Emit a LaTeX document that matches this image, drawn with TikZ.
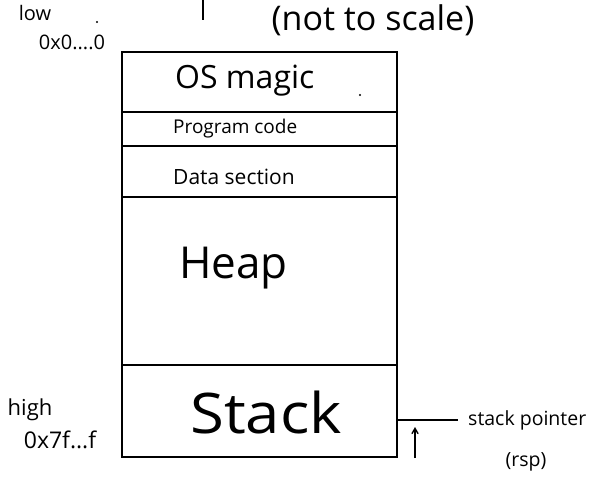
\documentclass[tikz,border=0pt]{standalone}
\usepackage{fontspec}
\setmainfont{Open Sans}
\usetikzlibrary{positioning}
\usetikzlibrary{arrows}
\tikzset{
  section/.style={
    % The shape:
    shape=rectangle,
    % The size:
    minimum width=275pt,inner sep=0pt,outer sep=0pt,
    % The border:
    line width=1.6pt,draw=black
  }}
\tikzset{
	bigtext/.style={
		% big labels inside the box
		anchor=west,inner sep=0pt,font=\fontsize{36}{40}\selectfont},
	smalltext/.style={
		anchor=west,inner sep=0pt,font=\fontsize{20}{24}\selectfont},
	note/.style={
		inner sep=0pt,font=\fontsize{19.5}{23}\selectfont}}

\begin{document}
\begin{tikzpicture}[x=1pt,y=-1pt]
	\useasboundingbox (0,0) rectangle (601,487);
	% The memory layout, top to bottom
	\node[section,minimum height=60pt,anchor=north west] (os) at (122,52) {};
	\node[section,minimum height=34pt,below=0pt of os] (prog) {};
	\node[section,minimum height=51pt,below=0pt of prog] (data) {};
	\node[section,minimum height=168pt,below=0pt of data] (heap) {};
	\node[section,minimum height=92pt,below=0pt of heap] (stack) {};
	% Labels of the sections
	\node[bigtext,font=\fontsize{32}{36}\selectfont] (ostext) at (175,81) {OS magic};
	\node[smalltext,font=\fontsize{19}{22}\selectfont] (progtext) at (173,129) {Program code};
	\node[smalltext,font=\fontsize{21}{24}\selectfont] (datatext) at (173,177) {Data section};
	\node[bigtext,font=\fontsize{44}{48}\selectfont] (heaptext) at (179,268) {Heap};
	\node[bigtext,font=\fontsize{56}{60}\selectfont,xscale=1.1] (stacktext) at (190,412) {Stack};
	% Addresses on the left
	\node[note,font=\fontsize{20}{22}\selectfont] (low) at (35,13) {low};
	\node[note,font=\fontsize{20}{22}\selectfont] (lowaddr) at (72,42) {0x0....0};
	\node[note,font=\fontsize{22}{24}\selectfont] (high) at (30,410) {high};
	\node[note,font=\fontsize{23}{26}\selectfont] (highaddr) at (60,440) {0x7f...f};
	% Heading
	\node[note,font=\fontsize{34}{38}\selectfont] (scale) at (373,20) {(not to scale)};
	\draw[line width=1.2pt] (203,0) -- (203,20);
	\fill (97,22) circle (1.2pt);
	\fill (360,95) circle (1.2pt);
	% The stack pointer
	\coordinate (sp) at (stack.east |- 0,420);
	\node[note,anchor=west] (sptext) at (468,420) {stack pointer};
	\node[note] (rsp) at (526,462) {(rsp)};
	\draw[line width=1.4pt,shorten >=10pt] (sp) -- (sptext.west);
	\coordinate (arrowfoot) at (415,458);
	\coordinate (arrowhead) at (415,427);
	\draw[->,>=angle 60,line width=1.4pt] (arrowfoot) -- (arrowhead);
\end{tikzpicture}
\end{document}
